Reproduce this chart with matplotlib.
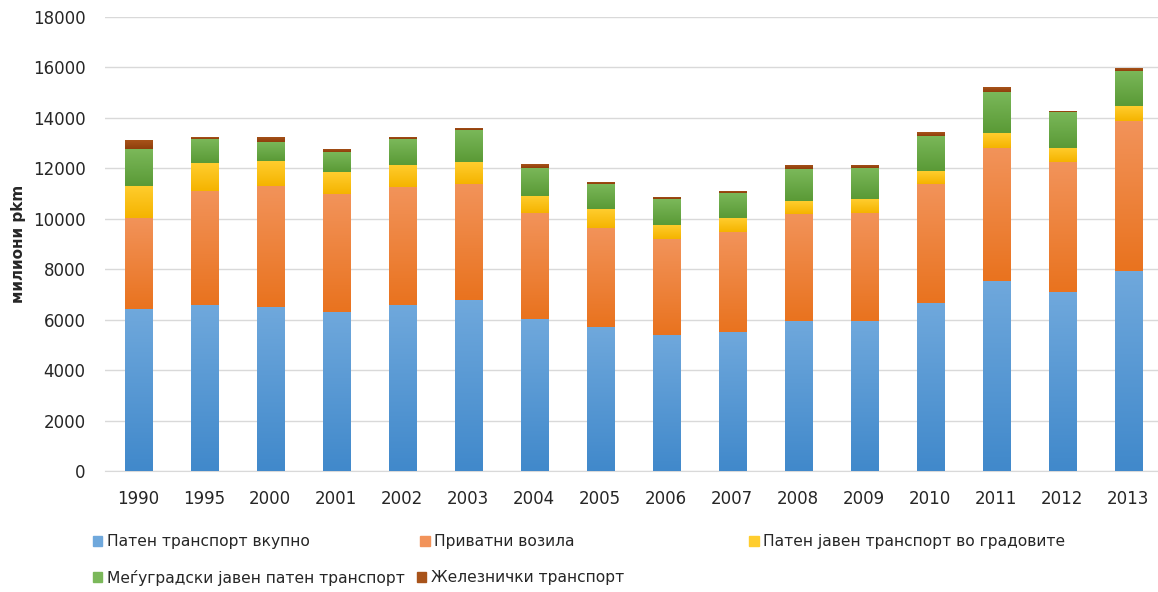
import numpy as np
import matplotlib
matplotlib.use('Agg')
import matplotlib.pyplot as plt
from matplotlib.patches import Patch
from matplotlib.colors import LinearSegmentedColormap

# podatoci (milioni pkm)
years = ['1990', '1995', '2000', '2001', '2002', '2003', '2004', '2005',
         '2006', '2007', '2008', '2009', '2010', '2011', '2012', '2013']
paten_vkupno = [6400, 6580, 6500, 6310, 6580, 6760, 6010, 5690,
                5390, 5520, 5960, 5960, 6645, 7530, 7080, 7930]
privatni = [3630, 4530, 4795, 4665, 4660, 4620, 4200, 3940,
            3790, 3950, 4240, 4280, 4715, 5270, 5150, 5950]
javen_gradovi = [1270, 1085, 980, 860, 900, 850, 700, 740,
                 570, 540, 515, 530, 515, 580, 570, 570]
megjugradski = [1450, 975, 755, 795, 1030, 1290, 1110, 1015,
                1020, 1005, 1255, 1250, 1415, 1650, 1440, 1410]
zeleznicki = [350, 55, 200, 130, 80, 80, 130, 80,
              80, 90, 170, 120, 130, 175, 40, 95]

labels = ['Патен транспорт вкупно', 'Приватни возила',
          'Патен јавен транспорт во градовите',
          'Меѓуградски јавен патен транспорт', 'Железнички транспорт']
series = [paten_vkupno, privatni, javen_gradovi, megjugradski, zeleznicki]
# (svetla boja gore, temna dolu)
colors = [('#6fa8dc', '#4189cb'), ('#f2935a', '#e9731f'),
          ('#ffcd2e', '#f5b400'), ('#7bb85a', '#5a9a36'),
          ('#a8531a', '#8f3f0c')]

fig = plt.figure(figsize=(11.58, 5.92), dpi=100)
ax = fig.add_axes([0.0907, 0.2044, 0.912, 0.7674])

x = np.arange(len(years))
bottom = np.zeros(len(years))
for vals, (c_top, c_bot) in zip(series, colors):
    bars = ax.bar(x, vals, 0.41, bottom=bottom, color=c_bot, zorder=3,
                  linewidth=0)
    cmap = LinearSegmentedColormap.from_list('g', [c_bot, c_top])
    for b in bars:
        x0, y0 = b.get_x(), b.get_y()
        w, h = b.get_width(), b.get_height()
        im = ax.imshow(np.linspace(0, 1, 50).reshape(-1, 1), cmap=cmap,
                       extent=[x0, x0 + w, y0, y0 + h], origin='lower',
                       aspect='auto', zorder=3.5, interpolation='bilinear')
        im.set_clip_path(b)
    bottom += np.array(vals)

ax.set_xlim(-0.5, len(years) - 0.5)
ax.set_ylim(0, 18000)
ax.set_yticks(np.arange(0, 18001, 2000))
ax.set_xticks(x)
ax.set_xticklabels(years)
ax.grid(axis='y', color='#d9d9d9', linewidth=1, zorder=0)
for s in ['top', 'right', 'left']:
    ax.spines[s].set_visible(False)
ax.spines['bottom'].set_color('#d9d9d9')
ax.tick_params(axis='both', length=0, labelsize=12, colors='#262626')
ax.tick_params(axis='x', pad=14)
ax.tick_params(axis='y', pad=14)
ax.set_ylabel('милиони pkm', fontsize=11, fontweight='bold', color='#262626')
ax.yaxis.set_label_coords(-0.075, 0.5)

# legenda - sekoja stavka posebno, kako vo Excel
leg_pos = [(0.080, 0.085), (0.363, 0.085), (0.647, 0.085),
           (0.080, 0.024), (0.360, 0.024)]
for (c_top, c_bot), lab, pos in zip(colors, labels, leg_pos):
    fig.legend([Patch(color=c_top)], [lab], loc='center left',
               bbox_to_anchor=pos, frameon=False, fontsize=11.2,
               handlelength=0.6, handleheight=0.6, handletextpad=0.3,
               borderpad=0, borderaxespad=0, labelcolor='#262626')

fig.savefig('out.png', dpi=100)
